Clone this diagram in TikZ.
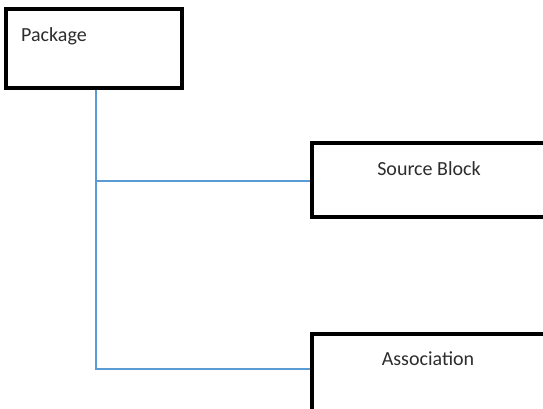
\documentclass[tikz,border=0pt]{standalone}
\usepackage{fontspec}
\setmainfont{Carlito}
\usetikzlibrary{calc}
\definecolor{linkblue}{RGB}{91,155,213}
\definecolor{textgray}{RGB}{45,45,45}
\tikzset{
  box/.style={draw=black, line width=3.5pt, fill=white, rectangle, inner sep=0pt},
  link/.style={draw=linkblue, line width=1.3pt},
  lbl/.style={text=textgray, font=\fontsize{20}{24}\selectfont, inner sep=0pt}
}
\begin{document}
\begin{tikzpicture}[x=1pt,y=1pt]
\useasboundingbox (0,0) rectangle (543,-408);
\clip (0,0) rectangle (543,-408);
% boxes
\node [box, minimum width=176pt, minimum height=79pt] (package) at (94,-48.5) {};
\node [box, minimum width=288pt, minimum height=74pt] (source) at (456,-180) {};
\node [box, minimum width=288pt, minimum height=80pt] (assoc) at (456,-374) {};
% connectors
\coordinate (trunk) at (96,-369);
\draw [link] (package.south -| trunk) -- (trunk) -- (assoc.west |- trunk);
\draw [link] ($(source.west -| trunk)+(0,-1)$) -- ($(source.west)+(0,-1)$);
% labels
\node [lbl, anchor=west] (packagelbl) at (21,-36) {Package};
\node [lbl] (sourcelbl) at (429,-169) {Source Block};
\node [lbl] (assoclbl) at (428,-359) {Association};
\end{tikzpicture}
\end{document}
